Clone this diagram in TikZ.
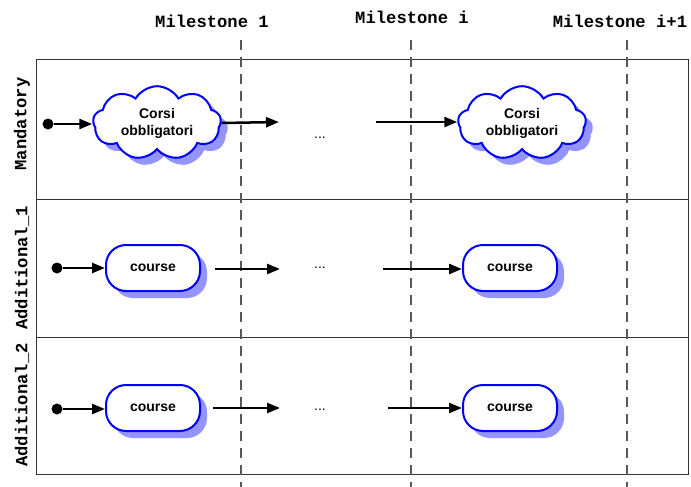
\documentclass[tikz,border=0pt]{standalone}
\usepackage{fontspec}
\setmainfont{Liberation Sans}
\newfontfamily\monob{Liberation Mono}
\usetikzlibrary{shapes.symbols,shadows,arrows.meta}
\begin{document}
\begin{tikzpicture}[x=1pt,y=-1pt,
  frame/.style={draw=black!80,line width=1pt},
  msline/.style={draw=black!65,line width=1.1pt,dash pattern=on 10pt off 7pt},
  mslabel/.style={font=\monob\bfseries\fontsize{17.2}{19}\selectfont,inner sep=0pt},
  lanelabel/.style={font=\monob\bfseries\fontsize{17.2}{19}\selectfont,rotate=90,inner sep=0pt},
  cloudbox/.style={cloud,cloud puffs=9,cloud puff arc=120,aspect=1.8,draw=blue,line width=2pt,fill=white,
    minimum width=128pt,minimum height=72pt,inner sep=0pt,align=center,
    font=\bfseries\fontsize{14}{17}\selectfont,
    drop shadow={shadow xshift=7pt,shadow yshift=-7pt,fill=blue!42,opacity=1}},
  coursebox/.style={rectangle,rounded corners=20pt,draw=blue,line width=2pt,fill=white,
    minimum width=94pt,minimum height=46pt,inner sep=0pt,
    font=\bfseries\fontsize{14}{16}\selectfont,
    drop shadow={shadow xshift=7pt,shadow yshift=-7pt,fill=blue!42,opacity=1}},
  startdot/.style={circle,fill=black,minimum size=11pt,inner sep=0pt},
  flow/.style={line width=2.5pt,-{Triangle[length=13pt,width=10pt]}},
  dots/.style={font=\fontsize{14}{16}\selectfont,inner sep=0pt}]
\useasboundingbox (0,0) rectangle (691,487);
% frame and lanes
\draw[frame] (36,60) rectangle (688,474);
\draw[frame] (36,199) -- (688,199);
\draw[frame] (36,337) -- (688,337);
% milestones
\coordinate (m1t) at (241,40); \coordinate (m1b) at (241,487);
\coordinate (mit) at (411,40); \coordinate (mib) at (411,487);
\coordinate (m2t) at (627,40); \coordinate (m2b) at (627,487);
\draw[msline] (m1t) -- (m1b);
\draw[msline] (mit) -- (mib);
\draw[msline] (m2t) -- (m2b);
\node[mslabel] (ms1) at (212,21) {Milestone 1};
\node[mslabel] (msi) at (412,17) {Milestone i};
\node[mslabel] (msn) at (620,21) {Milestone i+1};
% lane labels
\node[lanelabel] (l1) at (22,124) {Mandatory};
\node[lanelabel] (l2) at (22,268) {Additional\_1};
\node[lanelabel] (l3) at (22,405) {Additional\_2};
% lane 1
\node[startdot] (s1) at (48,124) {};
\node[cloudbox] (c1) at (157,123) {Corsi\\obbligatori};
\coordinate (a1e) at (279,122);
\node[dots] (d1) at (320,138) {...};
\coordinate (b1s) at (376,122);
\node[cloudbox] (c2) at (522,123) {Corsi\\obbligatori};
\draw[flow] (s1) -- (s1 -| c1.west);
\draw[flow] (c1.east) -- (a1e);
\draw[flow] (b1s) -- (b1s -| c2.west);
% lane 2
\node[startdot] (s2) at (57,268) {};
\node[coursebox] (k1) at (153,268) {course};
\coordinate (a2s) at (215,269);
\coordinate (a2e) at (280,269);
\node[dots] (d2) at (320,268) {...};
\coordinate (b2s) at (383,269);
\node[coursebox] (k2) at (510,268) {course};
\draw[flow] (s2) -- (k1);
\draw[flow] (a2s) -- (a2e);
\draw[flow] (b2s) -- (b2s -| k2.west);
% lane 3
\node[startdot] (s3) at (57,409) {};
\node[coursebox] (k3) at (153,408) {course};
\coordinate (a3s) at (213,408);
\coordinate (a3e) at (280,408);
\node[dots] (d3) at (320,410) {...};
\coordinate (b3s) at (388,408);
\node[coursebox] (k4) at (510,408) {course};
\draw[flow] (s3) -- (s3 -| k3.west);
\draw[flow] (a3s) -- (a3e);
\draw[flow] (b3s) -- (k4.west);
\end{tikzpicture}
\end{document}
